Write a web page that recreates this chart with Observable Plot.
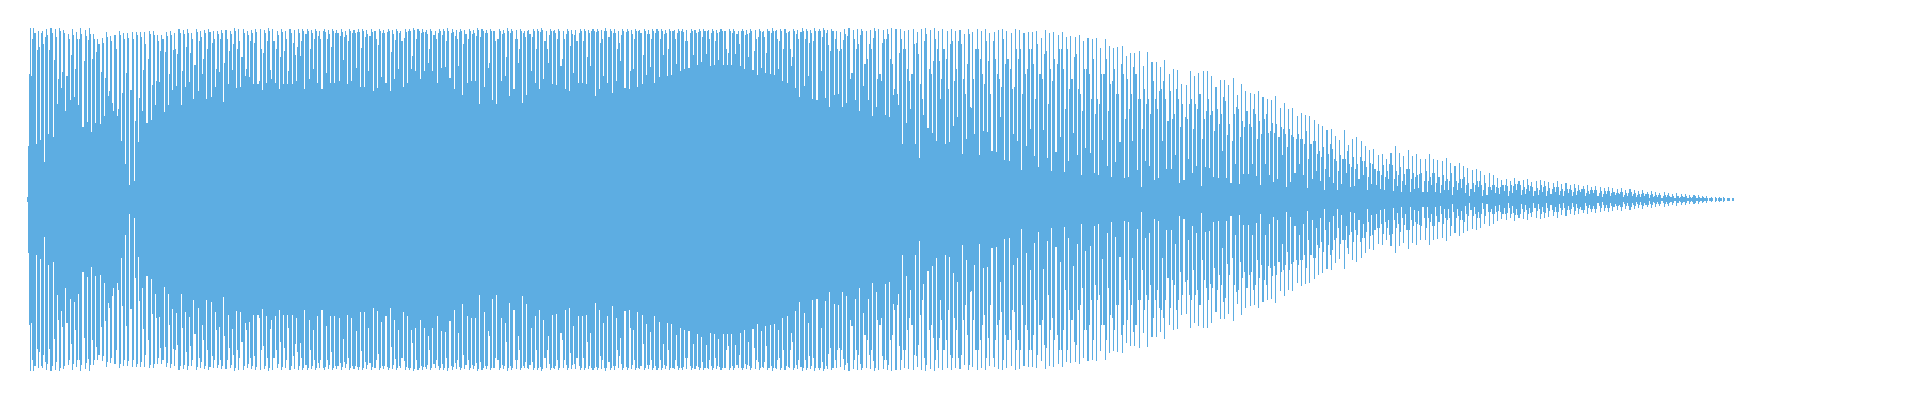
<!DOCTYPE html>
<html><head><meta charset="utf-8">
<script src="https://cdn.jsdelivr.net/npm/d3@7"></script>
<script src="https://cdn.jsdelivr.net/npm/@observablehq/plot@0.6"></script>
<style>html,body{margin:0;padding:0;background:#fff}svg{display:block}</style>
</head><body><div id="chart"></div>
<script>
// Four amplitude readings per pulse.
const troughs=[
2,123,55,59,37,65,62,95,111,88,99,102,94,72,77,67,76,75,83,103,
96,83,58,35,14,18,57,88,76,79,94,117,87,94,109,113,94,112,117,100,
108,125,100,102,112,127,97,115,129,111,112,123,122,115,115,109,116,129,116,110,
115,115,115,118,
143,110,120,130,116,110,126,116,116,118,139,115,118,131,112,112,128,108,111,122,
116,108,120,130,112,116,130,128,120,128,136,128,116,131,132,121,110,133,104,116,118,118,
95,112,131,99,95,118,123,103,110,136,96,104,128,116,110,120,136,115,114,133,
110,108,126,116,116,115,133,103,110,123,116,106,118,138,111,110,130,112,115,124,132,116,
122,144,123,124,135,128,130,131,144,134,137,145,133,134,139,134,134,134,145,133,
130,142,129,124,131,126,125,124,130,118,116,133,111,102,113,123,100,99,128,101,92,104,
105,92,96,126,99,88,113,99,83,92,118,84,82,104,94,55,76,90,55,41,
84,71,66,58,100,55,57,73,82,45,60,92,65,44,68,67,48,47,82,39,38,65,
58,29,53,70,43,32,69,41,28,47,62,27,38,66,44,24,51,46,26,24,
59,33,22,37,57,21,22,58,29,12,38,33,19,21,58,30,30,44,16,19,
40,26,33,13,32,31,22,21,48,21,16,35,15,25,25,35,23,14,35,24,17,20,44,12,17,26,
35,24,11,20,28,18,9,22,16,9,15,26,12,13,20,24,9,15,14,10,
9,20,8,13,7,14,7,10,11,7,7,14,7,6,9,9,4,9,11,6,3,7,12,3,4,9,6,
5,8,3,6,9,4,5,8,3,4,7,3,5,7,4,3,6,3,4,7,3,5,6,3,2,5,3,4,5,2,
3,3,2,2,3,1,2,2,1,2,2,1,1,2,1,1,1,1,1,0,0,0,1,0,0];
const rises=[
53,160,149,166,162,149,139,120,127,123,144,130,160,138,159,140,147,127,121,108,
88,90,106,126,109,78,101,129,140,114,118,148,147,125,149,145,128,152,146,134,
158,140,150,156,130,160,136,148,155,150,142,130,158,156,118,146,158,120,150,142,
148,128,156,152,
158,165,150,160,163,168,160,152,166,163,162,158,166,167,151,162,163,168,154,166,
167,147,159,166,161,168,143,160,166,167,150,164,166,164,158,166,163,167,155,160,165,163,
162,166,136,168,160,165,142,166,160,150,166,168,162,150,167,158,164,168,160,140,
165,153,164,166,158,142,168,167,156,168,162,166,150,164,167,128,160,168,144,165,160,166,
160,165,150,168,166,168,158,166,169,167,162,168,166,158,167,168,146,166,165,168,
164,166,148,162,167,146,166,168,158,150,167,142,165,167,160,156,158,168,162,166,148,160,
148,159,163,126,150,164,135,155,161,120,156,160,140,110,146,150,130,125,156,115,
158,130,138,150,120,140,155,118,158,120,135,91,150,140,115,138,158,125,112,135,130,112,
140,105,130,150,100,125,145,95,118,135,150,90,110,142,110,88,130,100,85,95,
125,88,118,105,135,80,90,132,100,70,95,85,100,108,118,78,80,110,72,82,
95,70,90,60,88,84,68,75,102,64,58,92,62,72,75,90,60,65,85,68,66,62,70,52,64,60,
60,55,40,58,45,42,30,55,40,28,40,48,32,30,42,38,22,35,28,24,
22,35,20,24,18,30,20,22,25,18,18,26,16,14,18,18,12,16,20,14,10,14,18,9,12,14,12,
12,14,8,13,15,9,10,13,8,9,12,8,10,12,8,8,10,7,8,10,6,9,9,6,5,8,6,6,7,4,
6,5,4,5,5,4,3,4,3,4,2,1,2,2,1,2,1,1,1,1,0,1,0,1,0];
const peaks=[
125,171,168,168,170,171,170,171,169,165,170,167,171,169,171,165,160,161,167,163,
164,168,166,166,167,167,167,167,168,168,164,164,167,168,166,170,169,170,166,170,
168,169,170,168,168,169,169,168,171,170,170,168,169,170,170,169,171,170,168,170,
168,170,169,170,
170,170,169,170,168,170,169,170,169,170,168,170,169,170,170,169,170,168,170,169,
170,169,170,168,170,170,171,170,170,169,170,168,170,170,171,170,169,170,169,170,169,171,
170,169,170,168,170,169,171,170,169,170,168,169,170,170,171,168,170,169,170,168,
170,169,169,170,170,169,170,170,169,171,170,170,168,170,170,169,170,169,170,169,170,170,
170,169,170,169,170,170,169,170,169,170,170,169,170,169,170,168,170,170,168,170,
169,170,169,170,168,170,171,169,170,170,168,170,169,171,170,169,171,170,171,169,170,168,
167,170,171,169,170,170,168,169,171,170,169,170,171,170,170,168,169,170,167,170,
171,169,171,168,170,168,170,168,169,165,170,167,170,168,170,166,167,169,170,168,166,170,
169,166,167,167,168,161,169,166,167,164,167,162,163,162,164,158,161,160,161,151,
160,153,151,152,153,143,146,146,148,133,147,137,137,132,139,125,130,129,115,114,
128,123,126,128,128,123,112,119,119,114,121,104,115,108,106,105,108,102,100,99,103,91,96,90,91,83,
86,84,83,79,75,73,69,70,63,59,69,54,60,62,58,53,49,50,44,45,
40,46,53,46,43,49,43,45,40,40,45,40,39,38,41,36,33,36,33,31,29,30,28,24,26,24,21,
19,20,18,21,18,19,20,17,18,19,18,17,16,18,15,16,14,15,14,13,14,12,13,12,11,12,11,10,11,9,
10,9,8,9,7,8,7,6,7,6,5,6,5,5,4,4,4,3,3,2,2,2,2,1,1];
const falls=[
171,166,152,155,164,166,162,168,166,160,164,160,165,163,165,160,155,156,162,158,
150,164,160,161,160,164,162,155,165,164,158,160,163,164,150,166,165,166,160,167,
162,166,167,160,165,166,160,165,168,158,166,164,166,167,150,166,168,158,164,167,
160,166,144,166,
168,168,166,168,160,167,165,168,166,167,164,168,166,167,168,165,167,160,168,166,
168,165,168,158,167,168,169,168,167,165,168,160,168,168,168,167,160,168,165,168,166,169,
168,166,168,158,168,166,168,168,160,168,162,165,168,168,169,150,168,166,168,160,
168,165,158,168,168,166,168,168,160,168,168,166,156,168,168,165,168,166,168,165,168,168,
168,166,168,160,168,167,158,168,166,168,168,160,168,166,168,150,168,168,155,168,
165,168,160,168,162,168,168,160,168,166,150,168,160,168,168,166,168,168,169,154,168,150,
150,165,120,160,155,168,140,150,168,125,160,165,135,105,160,150,118,155,145,100,
165,125,160,138,150,110,158,130,155,105,165,120,150,125,158,105,140,120,160,140,110,150,
150,125,150,135,155,120,148,130,140,150,130,150,120,145,105,130,125,140,100,125,
140,115,130,105,125,120,105,125,100,110,100,118,90,110,100,108,85,100,95,80,
100,95,105,80,100,88,90,85,98,75,85,90,78,88,72,85,78,80,66,76,75,72,65,70,62,65,
60,68,55,58,48,52,45,50,38,44,40,35,42,35,38,32,36,30,28,34,
28,34,28,32,25,30,26,24,26,28,22,26,22,24,20,26,18,20,22,16,16,18,14,16,12,14,11,
14,13,14,15,14,12,14,12,11,14,13,11,12,12,10,10,9,11,9,10,8,9,9,8,8,8,7,6,7,6,
7,6,5,6,5,5,4,4,4,3,3,3,3,3,2,3,2,2,1,1,1,1,1,1,1];

const amps = troughs.flatMap((t, i) => [t, rises[i], peaks[i], falls[i]]);

const chart = Plot.plot({
  width: 1920,
  height: 400,
  margin: 0,
  x: {domain: [0, amps.length], range: [27, 1734], axis: null},
  y: {domain: [-171, 171], range: [371, 28], axis: null},
  marks: [
    Plot.rect(d3.range(amps.length), {
      x1: i => i,
      x2: i => i + 1,
      y1: i => -amps[i],
      y2: i => amps[i],
      fill: "#5dade2",
      shapeRendering: "crispEdges"
    })
  ]
});
document.getElementById("chart").append(chart);
</script></body></html>
